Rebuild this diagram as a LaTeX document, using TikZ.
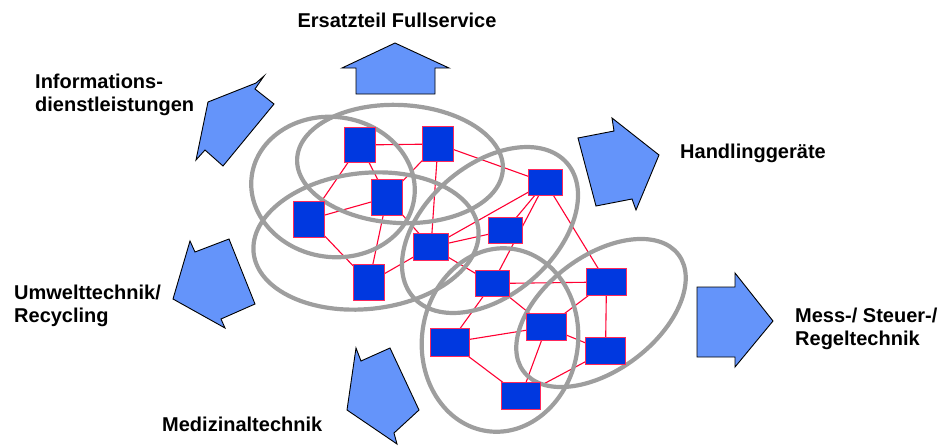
\documentclass[tikz,border=0pt]{standalone}
\usepackage{fontspec}
\setmainfont{Liberation Sans}
\begin{document}
\begin{tikzpicture}[x=1pt,y=-1pt,
  box/.style={draw=boxedge,fill=boxfill,line width=1.3pt,inner sep=0pt},
  link/.style={draw=linkred,line width=1.1pt},
  ring/.style={draw=ringgray,line width=4.2pt},
  blockarrow/.style={draw=black,fill=arrowblue,line width=0.9pt,line join=miter},
  label/.style={font=\bfseries\fontsize{20}{23}\selectfont,inner sep=0pt,align=left}]
\definecolor{boxfill}{RGB}{0,56,224}
\definecolor{boxedge}{RGB}{255,40,90}
\definecolor{linkred}{RGB}{255,0,50}
\definecolor{ringgray}{RGB}{158,158,158}
\definecolor{arrowblue}{RGB}{100,148,250}
\useasboundingbox (0,0) rectangle (943,445);

% network nodes
\node[box,minimum width=30pt,minimum height=34pt] (n1) at (360,145) {};
\node[box,minimum width=30pt,minimum height=34pt] (n2) at (438,144) {};
\node[box,minimum width=30pt,minimum height=35pt] (n3) at (387,197.5) {};
\node[box,minimum width=30pt,minimum height=35pt] (n4) at (309,219.5) {};
\node[box,minimum width=33pt,minimum height=25pt] (n5) at (545.5,182.5) {};
\node[box,minimum width=33pt,minimum height=25pt] (n6) at (505.5,230.5) {};
\node[box,minimum width=34pt,minimum height=26pt] (n7) at (431,247) {};
\node[box,minimum width=30pt,minimum height=35pt] (n8) at (369,282.5) {};
\node[box,minimum width=33pt,minimum height=25pt] (n9) at (492.5,283.5) {};
\node[box,minimum width=39pt,minimum height=26pt] (n10) at (606.5,282) {};
\node[box,minimum width=39pt,minimum height=26pt] (n11) at (546.5,327) {};
\node[box,minimum width=38pt,minimum height=27pt] (n12) at (450,342.5) {};
\node[box,minimum width=39pt,minimum height=26pt] (n13) at (605.5,351) {};
\node[box,minimum width=38pt,minimum height=26pt] (n14) at (521,396) {};

% links
\foreach \a/\b in {n1/n2,n1/n4,n1/n3,n2/n3,n2/n7,n2/n5,n4/n3,n4/n8,n3/n8,n3/n7,
                   n5/n7,n5/n6,n5/n9,n5/n10,n6/n7,n7/n8,n7/n9,n9/n10,n9/n11,n9/n12,
                   n10/n11,n10/n13,n12/n11,n12/n14,n11/n14,n11/n13,n13/n14}
  \draw[link] (\a) -- (\b);

% grouping rings
\draw[ring,rotate around={-8:(333,187)}] (333,187) ellipse [x radius=82pt,y radius=70pt];
\draw[ring,rotate around={-3:(400,164)}] (400,164) ellipse [x radius=103pt,y radius=59pt];
\draw[ring,rotate around={6:(366,241)}] (366,241) ellipse [x radius=113pt,y radius=68pt];
\draw[ring,rotate around={41:(490,230)}] (490,230) ellipse [x radius=102pt,y radius=65pt];
\draw[ring,rotate around={-8:(500,340)}] (500,340) ellipse [x radius=78pt,y radius=92pt];
\draw[ring,rotate around={37:(601,313)}] (601,313) ellipse [x radius=97pt,y radius=57pt];

% redraw the boxes above the rings
\foreach \n in {n1,n2,n3,n4,n5,n6,n7,n8,n9,n10,n11,n12,n13,n14}
  \draw[box] (\n.north west) rectangle (\n.south east);

% block arrows
\draw[blockarrow] (395,43) -- (449,68) -- (435,68) -- (435,94) -- (356,94) -- (356,68) -- (342,68) -- cycle;
\draw[blockarrow] (208,102) -- (256,83) -- (264,76) -- (255,89) -- (274,104) -- (223,166) -- (205,150) -- (196,160) -- cycle;
\draw[blockarrow] (578,138) -- (614,131) -- (612,118) -- (659,155) -- (636,210) -- (632,199) -- (596,206) -- cycle;
\draw[blockarrow] (697,287) -- (735,287) -- (735,273) -- (773,321) -- (735,367) -- (735,357) -- (697,357) -- cycle;
\draw[blockarrow] (190,241) -- (195,252) -- (229,239) -- (255,304) -- (221,319) -- (225,328) -- (173,299) -- cycle;
\draw[blockarrow] (356,348) -- (361,361) -- (390,348) -- (419,410) -- (394,433) -- (397,444) -- (347,410) -- cycle;

% labels
\node[label,anchor=base] (ersatz) at (397,27) {Ersatzteil Fullservice};
\node[label,anchor=north west] (info) at (35,73.5) {Informations-\\dienstleistungen};
\node[label,anchor=base west] (handling) at (680,158) {Handlinggeräte};
\node[label,anchor=north west] (umwelt) at (14,284.5) {Umwelttechnik/\\Recycling};
\node[label,anchor=north west] (mess) at (795,307.5) {Mess-/ Steuer-/\\Regeltechnik};
\node[label,anchor=base west] (medizin) at (162,431) {Medizinaltechnik};
\end{tikzpicture}
\end{document}
